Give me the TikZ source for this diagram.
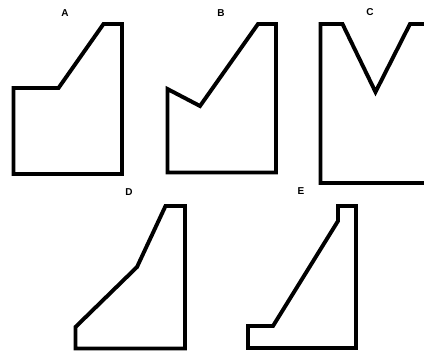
\documentclass[tikz,border=0pt]{standalone}
\usepackage{fontspec}
\setmainfont{Liberation Sans}

\begin{document}
\begin{tikzpicture}[x=1pt,y=-1pt,
        profile/.style={line width=3.9pt,black},
        lbl/.style={font=\bfseries\fontsize{10}{11}\selectfont,inner sep=0pt}]
        \useasboundingbox (0,0) rectangle (424,351);
        \clip (0,0) rectangle (424,351);
        % profile A
        \draw[profile] (13.5,174) -- (13.5,88) -- (58.5,88) -- (103.5,24) -- (122,24) -- (122,174) -- cycle;
        \node[lbl] (labA) at (65,13) {A};
        % profile B
        \draw[profile] (167.5,172.5) -- (167.5,89) -- (200,106) -- (258,24) -- (276,24) -- (276,172.5) -- cycle;
        \node[lbl] (labB) at (221,13) {B};
        % profile C (runs past the right edge)
        \draw[profile] (320.5,183) -- (320.5,24) -- (342.5,24) -- (375.5,92) -- (410,24) -- (440,24) -- (440,183) -- cycle;
        \node[lbl] (labC) at (370,12) {C};
        % profile D
        \draw[profile] (75.5,348.5) -- (75.5,327) -- (137,267) -- (165.5,206) -- (185,206) -- (185,348.5) -- cycle;
        \node[lbl] (labD) at (129,192) {D};
        % profile E
        \draw[profile] (248,348) -- (248,326) -- (273,326) -- (338,221) -- (338,206) -- (356,206) -- (356,348) -- cycle;
        \node[lbl] (labE) at (301,191) {E};
    \end{tikzpicture}
\end{document}
